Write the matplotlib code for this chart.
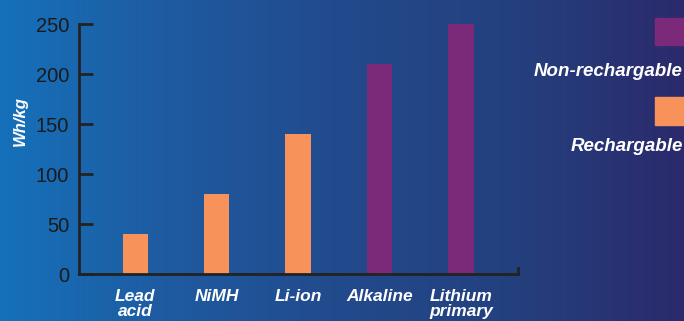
import numpy as np
import matplotlib
matplotlib.use("Agg")
import matplotlib.pyplot as plt
from matplotlib.colors import LinearSegmentedColormap

plt.rcParams["font.family"] = ["Liberation Sans", "DejaVu Sans"]

categories = ["Lead\nacid", "NiMH", "Li-ion", "Alkaline", "Lithium\nprimary"]
wh_per_kg = [40, 80, 140, 210, 250]
rechargeable = [True, True, True, False, False]
y_ticks = [0, 50, 100, 150, 200, 250]

ORANGE = "#f7925a"
PURPLE = "#7b2a7a"
WHITE = "white"
DARK = "#222222"

fig = plt.figure(figsize=(6.84, 3.21), dpi=100)

# 背景渐变
bg = fig.add_axes([0, 0, 1, 1], zorder=0)
cmap = LinearSegmentedColormap.from_list(
    "bg", ["#1571ba", "#1f5aa0", "#224a8c", "#24407e", "#2b2a6c"])
bg.imshow(np.linspace(0, 1, 256)[None, :], aspect="auto", cmap=cmap,
          extent=[0, 1, 0, 1])
bg.axis("off")

# 主图: x 79..518 px, y 24..274 px
ax = fig.add_axes([79 / 684, (321 - 274) / 321, (518 - 79) / 684, 250 / 321], zorder=1)
ax.patch.set_alpha(0)
x = np.arange(len(categories))
colors = [ORANGE if r else PURPLE for r in rechargeable]
ax.bar(x, wh_per_kg, width=0.31, color=colors, zorder=2)
ax.set_xlim(-0.69, 4.70)
ax.set_ylim(0, 250)
ax.set_yticks(y_ticks)
ax.tick_params(axis="y", direction="in", length=10, width=2, color=DARK,
               labelcolor="#1a1a1a", labelsize=14.5, pad=7)
ax.set_xticks(x)
ax.set_xticklabels(categories, color=WHITE, fontsize=12.5, fontweight="bold",
                   fontstyle="italic", linespacing=1.0)
ax.tick_params(axis="x", length=0, pad=11)
for s in ["top", "right"]:
    ax.spines[s].set_visible(False)
for s in ["left", "bottom"]:
    ax.spines[s].set_color(DARK)
    ax.spines[s].set_linewidth(2)
# 右端小刻度
ax.plot([4.70, 4.70], [0, 6], color=DARK, lw=2, clip_on=False)
ax.set_ylabel("Wh/kg", color=WHITE, fontsize=12, fontweight="bold",
              fontstyle="italic")
ax.yaxis.set_label_coords(-0.116, 0.61)

# 图例
fig.patches.append(plt.Rectangle((655 / 684, 1 - 45 / 321), 29 / 684, 27 / 321,
                                 transform=fig.transFigure, color=PURPLE, zorder=3))
fig.patches.append(plt.Rectangle((655 / 684, 1 - 125 / 321), 29 / 684, 28 / 321,
                                 transform=fig.transFigure, color=ORANGE, zorder=3))
fig.text(683 / 684, 1 - 72 / 321, "Non-rechargable", ha="right", va="center",
         color=WHITE, fontsize=13.5, fontweight="bold", fontstyle="italic", zorder=3)
fig.text(683 / 684, 1 - 146 / 321, "Rechargable", ha="right", va="center",
         color=WHITE, fontsize=13.5, fontweight="bold", fontstyle="italic", zorder=3)

fig.savefig("out.png", dpi=100)
